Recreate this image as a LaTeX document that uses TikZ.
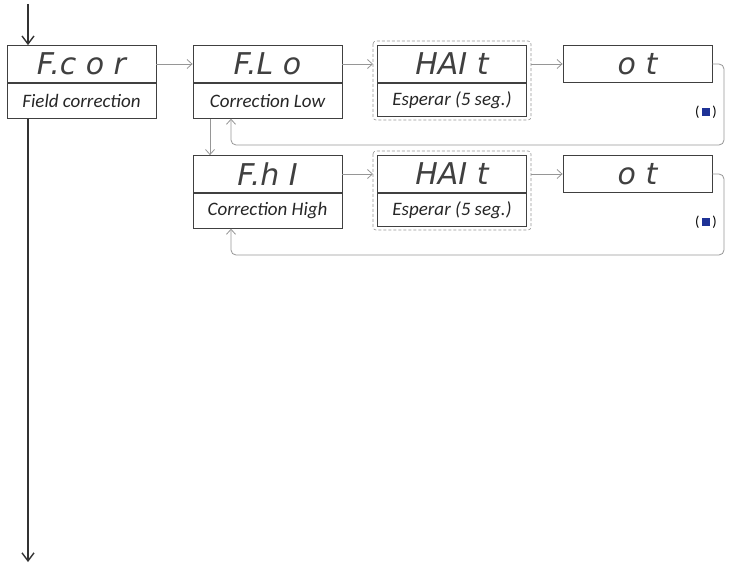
\documentclass[tikz,border=0pt]{standalone}
\usepackage{fontspec}
\setmainfont{Carlito}
\newfontfamily\segfont{DejaVu Sans}
\usetikzlibrary{positioning,arrows.meta}
\definecolor{linegray}{RGB}{150,150,150}
\definecolor{sqblue}{RGB}{30,50,150}
\tikzset{
  disp/.style={draw=black!75, line width=0.8pt, minimum width=149pt, minimum height=37pt, inner sep=0pt,
    font=\segfont\fontsize{30}{30}\selectfont\itshape\color{black!75}},
  lbl/.style={draw=black!75, line width=0.8pt, minimum width=149pt, minimum height=35pt, inner sep=0pt,
    font=\fontsize{19}{19}\selectfont\itshape\color{black!85}},
  flow/.style={draw=linegray, line width=0.8pt, -{Straight Barb[length=5pt,width=9pt]}},
  loop/.style={draw=linegray, line width=0.8pt, rounded corners=5pt, -{Straight Barb[length=5pt,width=9pt]}},
  main/.style={draw=black!80, line width=1.4pt, -{Straight Barb[length=8pt,width=12pt]}},
  waitframe/.style={draw=linegray, densely dashed, line width=0.6pt, rounded corners=3pt}
}
\begin{document}
\begin{tikzpicture}[x=1pt,y=-1pt]
  \useasboundingbox (0,0) rectangle (737,567);
  % field correction
  \node[disp] (fcor) at (81.5,64) {F.c o r};
  \node[lbl, below=0pt of fcor] (fcorl) {Field correction};
  % low row
  \node[disp] (flo) at (267.5,64) {F.L o};
  \node[lbl, below=0pt of flo] (flol) {Correction Low};
  \node[disp] (wait1) at (452,64) {HAI t};
  \node[lbl, below=0pt of wait1, minimum height=33pt] (wait1l) {Esperar (5 seg.)};
  \draw[waitframe] (373,41) rectangle (531,120);
  \node[disp, minimum height=37pt] (ot1) at (637.5,64) {o t};
  \node[font=\Large] (key1) at (706,112) {(\,\textcolor{sqblue}{\rule{8pt}{8pt}}\,)};
  % high row
  \node[disp] (fhi) at (267.5,174) {F.h I};
  \node[lbl, below=0pt of fhi] (fhil) {Correction High};
  \node[disp] (wait2) at (452,174) {HAI t};
  \node[lbl, below=0pt of wait2, minimum height=33pt] (wait2l) {Esperar (5 seg.)};
  \draw[waitframe] (373,151) rectangle (531,230);
  \node[disp] (ot2) at (637.5,174) {o t};
  \node[font=\Large] (key2) at (706,222) {(\,\textcolor{sqblue}{\rule{8pt}{8pt}}\,)};
  % connectors
  \coordinate (start) at (28,4);
  \coordinate (stop) at (28,562);
  \draw[main] (start) -- (start |- fcor.north);
  \draw[main] (fcorl.south -| start) -- (stop);
  \draw[flow] (fcor) -- (flo);
  \draw[flow] (flo) -- (373,64);
  \draw[flow] (531,64) -- (ot1);
  \draw[flow] (flol.south -| 210,0) -- (fhi.north -| 210,0);
  \draw[loop] (ot1.east) -- (724,64) -- (724,145) -- (231,145) -- (flol.south -| 231,0);
  \draw[flow] (fhi) -- (373,174);
  \draw[flow] (531,174) -- (ot2);
  \draw[loop] (ot2.east) -- (724,174) -- (724,255) -- (231,255) -- (fhil.south -| 231,0);
\end{tikzpicture}
\end{document}
